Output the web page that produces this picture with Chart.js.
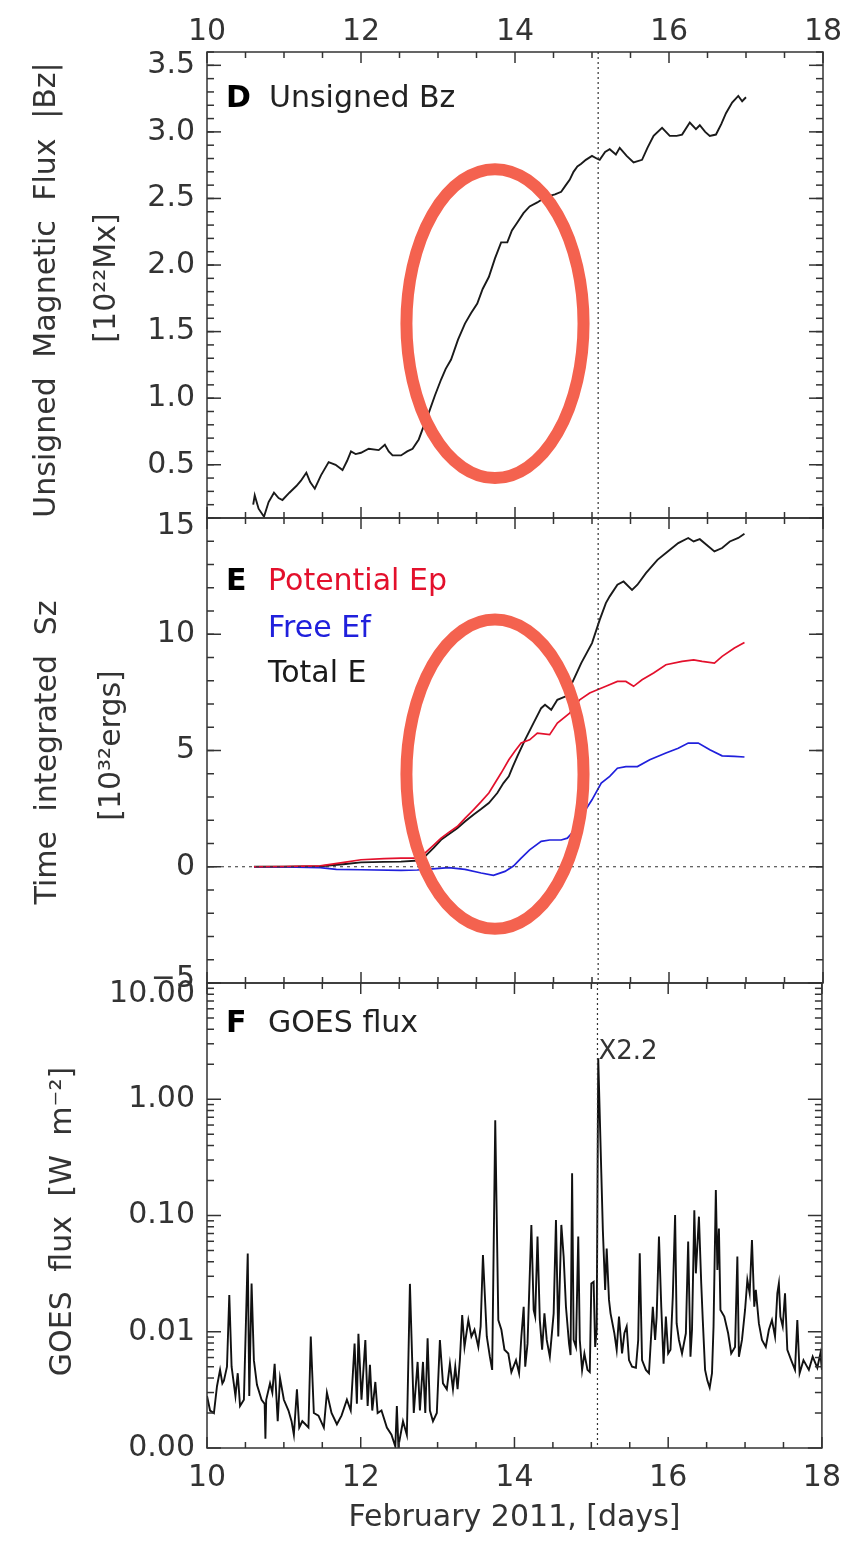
<!DOCTYPE html>
<html lang="en">
<head>
<meta charset="UTF-8">
<title>February 2011: flux, energy and GOES</title>
<script src="https://cdn.jsdelivr.net/npm/chart.js"></script>
<style>
  html, body { margin: 0; padding: 0; background: #fff; }
  #wrap { position: relative; width: 853px; height: 1548px; }
  #wrap canvas { position: absolute; left: 0; top: 0; }
</style>
</head>
<body>
<div id="wrap">
  <canvas id="panelD" width="853" height="1548"></canvas>
  <canvas id="panelE" width="853" height="1548"></canvas>
  <canvas id="panelF" width="853" height="1548"></canvas>
</div>
<script>
// ---------- data ----------
const xTicks = [10, 12, 14, 16, 18];
const flareTime = 15.08;          // X2.2 flare, dotted line

// D: unsigned magnetic flux [1e22 Mx]
const bzTicks = [0.5, 1.0, 1.5, 2.0, 2.5, 3.0, 3.5];
const bzTime = [10.60, 10.62, 10.67, 10.74, 10.80, 10.87, 10.93, 10.98, 11.07, 11.16, 11.22, 11.29, 11.34, 11.40,
  11.48, 11.58, 11.67, 11.76, 11.82, 11.87, 11.93, 12.00, 12.10, 12.23, 12.31, 12.36, 12.41, 12.52, 12.60, 12.67,
  12.75, 12.82, 12.88, 12.96, 13.04, 13.10, 13.17, 13.26, 13.35, 13.43, 13.51, 13.58, 13.66, 13.74, 13.82, 13.90,
  13.96, 14.03, 14.11, 14.19, 14.29, 14.37, 14.45, 14.52, 14.60, 14.66, 14.71, 14.76, 14.81, 14.86, 14.92, 15.00,
  15.06, 15.10, 15.17, 15.23, 15.31, 15.36, 15.45, 15.54, 15.65, 15.72, 15.80, 15.91, 16.01, 16.10, 16.17, 16.27,
  16.35, 16.40, 16.47, 16.53, 16.61, 16.68, 16.74, 16.82, 16.90, 16.95, 17.00];
const bzFlux = [0.20, 0.27, 0.17, 0.11, 0.22, 0.29, 0.25, 0.235, 0.29, 0.34, 0.38, 0.44, 0.37, 0.32,
  0.42, 0.52, 0.50, 0.46, 0.53, 0.60, 0.58, 0.59, 0.62, 0.61, 0.65, 0.60, 0.57, 0.57, 0.60, 0.62,
  0.69, 0.80, 0.89, 1.02, 1.14, 1.22, 1.29, 1.44, 1.56, 1.64, 1.71, 1.82, 1.91, 2.05, 2.17, 2.17,
  2.26, 2.32, 2.39, 2.44, 2.47, 2.50, 2.52, 2.53, 2.55, 2.60, 2.64, 2.70, 2.74, 2.76, 2.79, 2.82,
  2.80, 2.79, 2.85, 2.87, 2.83, 2.88, 2.82, 2.77, 2.79, 2.88, 2.97, 3.03, 2.97, 2.97, 2.98, 3.07,
  3.02, 3.05, 3.00, 2.97, 2.98, 3.06, 3.14, 3.22, 3.27, 3.23, 3.26];

// E: time integrated Sz [1e32 erg]
const energyTicks = [-5, 0, 5, 10, 15];
const totalTime = [10.61, 11.00, 11.47, 11.80, 12.00, 12.30, 12.52, 12.75, 12.83, 12.94, 13.04, 13.14, 13.25, 13.35,
  13.46, 13.56, 13.66, 13.77, 13.85, 13.92, 13.97, 14.03, 14.13, 14.24, 14.34, 14.39, 14.47, 14.55, 14.66, 14.76,
  14.86, 15.00, 15.10, 15.18, 15.23, 15.33, 15.41, 15.52, 15.59, 15.70, 15.85, 15.96, 16.12, 16.25, 16.32, 16.40,
  16.59, 16.69, 16.79, 16.90, 16.98];
const totalE = [0.00, 0.00, 0.02, 0.12, 0.19, 0.21, 0.22, 0.27, 0.44, 0.80, 1.16, 1.40, 1.66, 1.95,
  2.24, 2.48, 2.74, 3.17, 3.60, 3.89, 4.30, 4.75, 5.46, 6.18, 6.82, 6.97, 6.75, 7.18, 7.33, 8.04,
  8.76, 9.62, 10.62, 11.34, 11.63, 12.13, 12.27, 11.91, 12.13, 12.63, 13.20, 13.49, 13.92, 14.14, 13.99, 14.09,
  13.56, 13.71, 13.99, 14.14, 14.32];
const potentialTime = [10.61, 11.00, 11.47, 11.80, 12.00, 12.30, 12.52, 12.75, 12.83, 12.94, 13.04, 13.14, 13.25, 13.35,
  13.46, 13.56, 13.66, 13.74, 13.82, 13.92, 14.00, 14.08, 14.19, 14.29, 14.45, 14.55, 14.71, 14.84, 14.97, 15.07,
  15.18, 15.33, 15.44, 15.54, 15.65, 15.80, 15.96, 16.17, 16.32, 16.43, 16.59, 16.69, 16.85, 16.98];
const potentialE = [0.00, 0.01, 0.04, 0.20, 0.30, 0.35, 0.37, 0.37, 0.59, 0.92, 1.23, 1.48, 1.73, 2.08,
  2.45, 2.80, 3.17, 3.60, 4.03, 4.60, 4.98, 5.32, 5.46, 5.75, 5.68, 6.18, 6.61, 7.18, 7.47, 7.61,
  7.76, 7.97, 7.97, 7.76, 8.04, 8.33, 8.69, 8.83, 8.90, 8.83, 8.76, 9.05, 9.41, 9.65];
const freeTime = [10.61, 11.00, 11.47, 11.68, 12.00, 12.52, 12.73, 12.93, 13.14, 13.35, 13.56, 13.72, 13.87, 13.98,
  14.08, 14.19, 14.34, 14.45, 14.60, 14.68, 14.76, 14.86, 15.00, 15.12, 15.23, 15.33, 15.44, 15.59, 15.75, 15.96,
  16.12, 16.25, 16.38, 16.53, 16.69, 16.85, 16.98];
const freeE = [0.00, -0.01, -0.04, -0.11, -0.13, -0.16, -0.14, -0.09, -0.04, -0.11, -0.27, -0.37, -0.20, 0.03,
  0.37, 0.73, 1.09, 1.15, 1.15, 1.23, 1.52, 2.16, 2.88, 3.60, 3.89, 4.24, 4.31, 4.31, 4.60, 4.89,
  5.10, 5.32, 5.32, 5.03, 4.77, 4.75, 4.72];

// F: GOES soft X-ray flux (axis units as printed)
const fluxTicks = [0.001, 0.01, 0.1, 1, 10];
const goesTime = [10.00, 10.04, 10.09, 10.13, 10.17, 10.20, 10.22, 10.26, 10.29, 10.32, 10.37, 10.40, 10.43, 10.48,
  10.53, 10.55, 10.58, 10.61, 10.65, 10.71, 10.75, 10.76, 10.77, 10.82, 10.85, 10.88, 10.92, 10.95, 11.00, 11.06,
  11.10, 11.13, 11.17, 11.20, 11.24, 11.28, 11.32, 11.35, 11.39, 11.45, 11.52, 11.56, 11.62, 11.69, 11.75, 11.82,
  11.87, 11.92, 11.95, 11.97, 12.01, 12.06, 12.09, 12.12, 12.15, 12.19, 12.22, 12.27, 12.34, 12.40, 12.45, 12.47,
  12.49, 12.55, 12.60, 12.64, 12.69, 12.74, 12.77, 12.81, 12.84, 12.87, 12.90, 12.94, 12.99, 13.03, 13.07, 13.12,
  13.16, 13.20, 13.23, 13.26, 13.29, 13.32, 13.35, 13.40, 13.44, 13.48, 13.53, 13.56, 13.59, 13.64, 13.68, 13.71,
  13.75, 13.79, 13.83, 13.87, 13.92, 13.96, 14.02, 14.06, 14.09, 14.12, 14.14, 14.17, 14.22, 14.25, 14.27, 14.30,
  14.33, 14.36, 14.39, 14.42, 14.46, 14.51, 14.54, 14.57, 14.61, 14.64, 14.67, 14.71, 14.73, 14.75, 14.77, 14.80,
  14.83, 14.85, 14.88, 14.91, 14.95, 14.98, 15.00, 15.03, 15.05, 15.07, 15.09, 15.13, 15.15, 15.18, 15.20, 15.23,
  15.25, 15.30, 15.33, 15.36, 15.40, 15.43, 15.46, 15.49, 15.53, 15.58, 15.61, 15.63, 15.66, 15.71, 15.75, 15.80,
  15.83, 15.85, 15.88, 15.91, 15.94, 15.97, 16.00, 16.03, 16.06, 16.09, 16.11, 16.14, 16.18, 16.23, 16.26, 16.29,
  16.31, 16.34, 16.36, 16.40, 16.43, 16.45, 16.48, 16.51, 16.54, 16.57, 16.59, 16.62, 16.64, 16.66, 16.68, 16.73,
  16.78, 16.82, 16.87, 16.90, 16.92, 16.96, 17.00, 17.03, 17.06, 17.09, 17.12, 17.14, 17.18, 17.22, 17.27, 17.31,
  17.35, 17.39, 17.42, 17.44, 17.46, 17.49, 17.52, 17.55, 17.60, 17.65, 17.68, 17.71, 17.76, 17.83, 17.88, 17.94,
  17.98, 18.00];
const goesFlux = [0.0028, 0.0021, 0.0020, 0.0034, 0.0047, 0.0036, 0.0038, 0.0050, 0.0207, 0.0050, 0.0028, 0.0044, 0.0023, 0.0026,
  0.047, 0.0028, 0.026, 0.0057, 0.0035, 0.0026, 0.0024, 0.0012, 0.0026, 0.0036, 0.0030, 0.0053, 0.0017, 0.0040, 0.0026, 0.0021,
  0.0017, 0.0013, 0.0032, 0.0015, 0.0017, 0.0016, 0.0015, 0.0091, 0.0020, 0.0019, 0.0015, 0.0030, 0.0020, 0.0016, 0.0019, 0.0026,
  0.0021, 0.0079, 0.0024, 0.0096, 0.0026, 0.0085, 0.0023, 0.0052, 0.0021, 0.0037, 0.0020, 0.0021, 0.0015, 0.0013, 0.00103, 0.0023,
  0.00103, 0.0017, 0.0013, 0.0258, 0.0020, 0.0055, 0.0021, 0.0055, 0.0020, 0.0088, 0.0021, 0.0017, 0.0020, 0.0085, 0.0036, 0.0032,
  0.0053, 0.0032, 0.0050, 0.0032, 0.0057, 0.0139, 0.0074, 0.0126, 0.0091, 0.0104, 0.0074, 0.0111, 0.0457, 0.0091, 0.0061, 0.0047,
  0.66, 0.0126, 0.0104, 0.0070, 0.0065, 0.0045, 0.0057, 0.0044, 0.0091, 0.0164, 0.0050, 0.0079, 0.083, 0.0154, 0.0135, 0.0658,
  0.0126, 0.0070, 0.0144, 0.0085, 0.0061, 0.0144, 0.0914, 0.0091, 0.083, 0.0443, 0.0164, 0.0079, 0.0063, 0.231, 0.0085, 0.0074,
  0.0658, 0.0085, 0.0047, 0.0065, 0.0047, 0.0045, 0.026, 0.0269, 0.0074, 0.0104, 2.25, 0.231, 0.075, 0.0229, 0.0521, 0.0188,
  0.0144, 0.0097, 0.0070, 0.0135, 0.0065, 0.0097, 0.0111, 0.0057, 0.0050, 0.0049, 0.0085, 0.0473, 0.0057, 0.0047, 0.0044, 0.0164,
  0.0085, 0.0135, 0.0658, 0.0164, 0.0053, 0.0135, 0.0065, 0.0070, 0.0200, 0.101, 0.0118, 0.0085, 0.0065, 0.0097, 0.0596, 0.0061,
  0.0104, 0.111, 0.0318, 0.0977, 0.026, 0.0126, 0.0047, 0.0038, 0.0033, 0.0044, 0.0111, 0.166, 0.034, 0.0774, 0.0154, 0.0135,
  0.0097, 0.0065, 0.0074, 0.0443, 0.0061, 0.0085, 0.0154, 0.0279, 0.0214, 0.0615, 0.0164, 0.0229, 0.0118, 0.0085, 0.0074, 0.0104,
  0.0126, 0.0091, 0.0214, 0.026, 0.0135, 0.0111, 0.0214, 0.0070, 0.0057, 0.0047, 0.0126, 0.0044, 0.0057, 0.0047, 0.0061, 0.0049,
  0.0065, 0.0047];

// highlight ovals drawn over panels D and E (data units)
const ovalD = { cx: 13.74, cy: 1.56, rx: 1.15, ry: 1.16 };
const ovalE = { cx: 13.74, cy: 3.98, rx: 1.15, ry: 6.65 };

// ---------- drawing ----------
const FONT = '"DejaVu Sans", "Liberation Sans", sans-serif';
Chart.defaults.font.family = FONT;
Chart.defaults.font.size = 30;
Chart.defaults.color = '#333';

const pts = (xs, ys) => xs.map((x, i) => ({ x: x, y: ys[i] }));
const range = (a, b, step) => { const out = []; for (let v = a; v <= b + 1e-9; v += step) out.push(+v.toFixed(4)); return out; };

function seg(ctx, x1, y1, x2, y2) {
  ctx.beginPath(); ctx.moveTo(x1, y1); ctx.lineTo(x2, y2); ctx.stroke();
}

const framePlugin = {
  id: 'frame',
  afterDatasetsDraw(chart, args, o) {
    const { ctx, chartArea: a, scales: { x, y } } = chart;
    ctx.save();
    ctx.strokeStyle = '#333';
    ctx.lineWidth = 1.2;
    ctx.setLineDash([2, 3]);
    const fx = x.getPixelForValue(flareTime);
    seg(ctx, fx, a.top, fx, a.bottom);
    if (o.zeroLine) {
      ctx.setLineDash([3, 4]);
      const zy = y.getPixelForValue(0);
      seg(ctx, a.left, zy, a.right, zy);
    }
    ctx.setLineDash([]);
    ctx.lineWidth = 1.5;
    ctx.strokeRect(a.left, a.top, a.right - a.left, a.bottom - a.top);
    range(x.min, x.max, 0.5).forEach(v => {
      const px = x.getPixelForValue(v);
      const len = v % 2 === 0 ? 11 : 6;
      seg(ctx, px, a.bottom, px, a.bottom - len);
      seg(ctx, px, a.top, px, a.top + len);
    });
    const tickY = (v, len) => {
      const py = y.getPixelForValue(v);
      seg(ctx, a.left, py, a.left + len, py);
      seg(ctx, a.right, py, a.right - len, py);
    };
    o.yMinor.forEach(v => tickY(v, 7));
    o.yMajor.forEach(v => tickY(v, 14));
    ctx.restore();
  },
  afterDraw(chart, args, o) {
    const { ctx, chartArea: a, scales: { x, y } } = chart;
    ctx.save();
    ctx.textBaseline = 'alphabetic';
    o.tags.forEach(t => {
      ctx.font = (t.bold ? 'bold ' : '') + '30px ' + FONT;
      ctx.fillStyle = t.color || '#222';
      ctx.fillText(t.text, a.left + t.dx, a.top + t.dy);
    });
    ctx.textAlign = 'center';
    ctx.textBaseline = 'middle';
    ctx.font = '30px ' + FONT;
    ctx.fillStyle = '#333';
    ctx.wordSpacing = '10px';
    const midY = (a.top + a.bottom) / 2;
    o.yTitle.forEach(t => {
      ctx.save();
      ctx.translate(t.x, midY + t.dy);
      ctx.rotate(-Math.PI / 2);
      ctx.fillText(t.text, 0, 0);
      ctx.restore();
    });
    ctx.wordSpacing = '0px';
    if (o.note) {
      ctx.textAlign = 'left';
      ctx.textBaseline = 'alphabetic';
      ctx.font = '26px ' + FONT;
      ctx.fillText(o.note.text, x.getPixelForValue(o.note.x) + 1, y.getPixelForValue(o.note.y));
    }
    if (o.oval) {
      const e = o.oval;
      const cx = x.getPixelForValue(e.cx), cy = y.getPixelForValue(e.cy);
      const rx = Math.abs(x.getPixelForValue(e.cx + e.rx) - cx);
      const ry = Math.abs(y.getPixelForValue(e.cy + e.ry) - cy);
      ctx.strokeStyle = '#f4624f';
      ctx.lineWidth = 12;
      ctx.beginPath();
      ctx.ellipse(cx, cy, rx, ry, 0, 0, Math.PI * 2);
      ctx.stroke();
    }
    ctx.restore();
  }
};

function xAxis(position, showLabels, height, extra) {
  return Object.assign({
    type: 'linear', position: position, min: 10, max: 18,
    afterBuildTicks: s => { s.ticks = xTicks.map(v => ({ value: v })); },
    ticks: { display: showLabels, padding: position === 'top' ? 2 : 12, maxRotation: 0, autoSkip: false },
    grid: { display: false, drawTicks: false },
    border: { display: false },
    afterFit: s => { s.height = height; }
  }, extra || {});
}

// labels sitting on a panel edge are nudged off it (px, + is down), as in the figure
function yAxis(cfg, ticks, fmt, nudge) {
  nudge = nudge || {};
  return Object.assign({
    afterBuildTicks: s => { s.ticks = ticks.map(v => ({ value: v })); },
    ticks: {
      padding: 12, autoSkip: false,
      callback: v => {
        const s = fmt(v), n = nudge[v];
        if (!n) return s;
        return n > 0 ? ['', s] : [s, ''];
      },
      font: c => {
        const n = c.tick ? nudge[c.tick.value] : 0;
        return n ? { size: 30, lineHeight: Math.abs(2 * n) / 30 } : { size: 30 };
      }
    },
    grid: { display: false, drawTicks: false },
    border: { display: false },
    afterFit: s => { s.width = 207; }
  }, cfg);
}

function lineSet(xs, ys, color, width) {
  return { data: pts(xs, ys), borderColor: color, borderWidth: width || 1.9, pointRadius: 0, tension: 0, fill: false };
}

function baseOptions(padding, scales, frame) {
  return {
    responsive: false, animation: false, events: [],
    layout: { padding: padding },
    plugins: { legend: { display: false }, tooltip: { enabled: false }, frame: frame },
    scales: scales
  };
}

// panel D
new Chart(document.getElementById('panelD'), {
  type: 'line',
  data: { datasets: [lineSet(bzTime, bzFlux, '#1a1a1a')] },
  options: baseOptions({ left: 0, right: 30, top: 0, bottom: 1030 }, {
    x: xAxis('top', true, 52),
    y: yAxis({ type: 'linear', min: 0.1, max: 3.6 }, bzTicks, v => v.toFixed(1))
  }, {
    yMajor: bzTicks, yMinor: range(0.1, 3.6, 0.1),
    tags: [{ text: 'D', bold: true, dx: 19, dy: 55, color: '#000' }, { text: 'Unsigned Bz', dx: 62, dy: 55 }],
    yTitle: [{ text: 'Unsigned Magnetic Flux |Bz|', x: 47, dy: 5 }, { text: '[10²²Mx]', x: 107, dy: -7 }],
    oval: ovalD
  }),
  plugins: [framePlugin]
});

// panel E
new Chart(document.getElementById('panelE'), {
  type: 'line',
  data: { datasets: [
    lineSet(potentialTime, potentialE, '#e3102c', 1.7),
    lineSet(freeTime, freeE, '#2020dc', 1.7),
    lineSet(totalTime, totalE, '#1a1a1a')
  ] },
  options: baseOptions({ left: 0, right: 30, top: 518, bottom: 565 }, {
    x: xAxis('bottom', false, 0),
    y: yAxis({ type: 'linear', min: -5, max: 15 }, energyTicks,
      v => v < 0 ? '\u2212' + Math.abs(v) : String(v), { 15: 8, '-5': -4 })
  }, {
    yMajor: energyTicks, yMinor: range(-5, 15, 1), zeroLine: true,
    tags: [
      { text: 'E', bold: true, dx: 19, dy: 72, color: '#000' },
      { text: 'Potential Ep', dx: 61, dy: 72, color: '#e3102c' },
      { text: 'Free Ef', dx: 61, dy: 119, color: '#2020dc' },
      { text: 'Total E', dx: 61, dy: 164, color: '#1a1a1a' }
    ],
    yTitle: [{ text: 'Time integrated Sz', x: 48, dy: 2 }, { text: '[10³²ergs]', x: 112, dy: -5 }],
    oval: ovalE
  }),
  plugins: [framePlugin]
});

// panel F
const fluxMinor = [];
fluxTicks.slice(0, -1).forEach(d => { for (let k = 2; k <= 9; k++) fluxMinor.push(d * k); });
new Chart(document.getElementById('panelF'), {
  type: 'line',
  data: { datasets: [lineSet(goesTime, goesFlux, '#111', 1.9)] },
  options: baseOptions({ left: 0, right: 30, top: 983, bottom: 0 }, {
    x: xAxis('bottom', true, 100, {
      title: { display: true, text: 'February 2011, [days]', padding: { top: 0, bottom: 12 } }
    }),
    y: yAxis({ type: 'logarithmic', min: 0.001, max: 10 }, fluxTicks, v => v.toFixed(2), { 10: 11 })
  }, {
    yMajor: fluxTicks, yMinor: fluxMinor,
    tags: [{ text: 'F', bold: true, dx: 19, dy: 49, color: '#000' }, { text: 'GOES flux', dx: 61, dy: 49 }],
    yTitle: [{ text: 'GOES flux [W m\u207B\u00B2]', x: 63, dy: 6 }],
    note: { text: 'X2.2', x: flareTime, y: 2.2 }
  }),
  plugins: [framePlugin]
});
</script>
</body>
</html>
